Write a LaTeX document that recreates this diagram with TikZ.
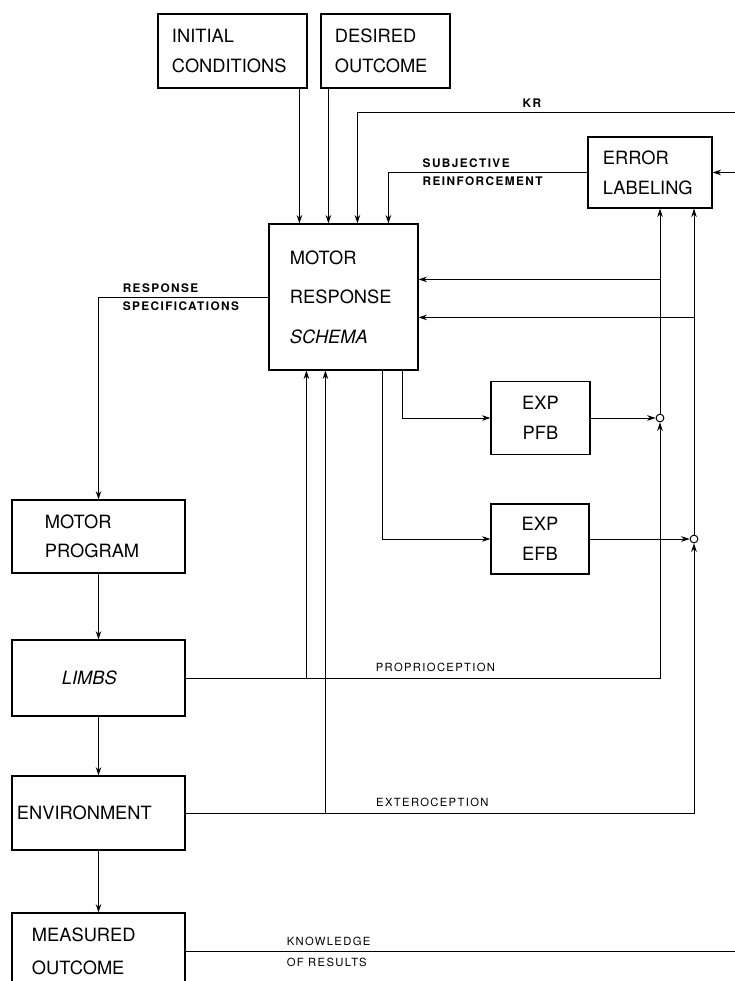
\documentclass[tikz,border=0pt]{standalone}
\usepackage{fontspec}
\setmainfont{TeX Gyre Heros}
\newfontfamily\tagfont[LetterSpace=12]{TeX Gyre Heros}
\usepackage{tikz}
\usetikzlibrary{arrows.meta,positioning,calc}

\tikzset{
  blk/.style={draw, line width=0.8pt, align=left, inner ysep=0pt, font=\fontsize{13}{21}\selectfont},
  arr/.style={-{Stealth[length=6pt,width=4pt]}, line width=0.7pt},
  tag/.style={font=\tagfont\bfseries\fontsize{8.4}{10}\selectfont, inner xsep=0pt, inner ysep=3pt},
  ltag/.style={font=\tagfont\fontsize{8}{9.6}\selectfont, inner xsep=0pt, inner ysep=4pt},
  junc/.style={circle, draw, fill=white, inner sep=0pt, minimum size=5.5pt, line width=0.7pt}
}

\begin{document}
\begin{tikzpicture}[x=0.025cm, y=-0.025cm]
  \useasboundingbox (0,0) rectangle (735,981);

  % Boxes
  \node[blk, text width=3.025cm, inner xsep=0.35cm, minimum height=1.85cm] (ic) at (232.5,51) {INITIAL\\CONDITIONS};
  \node[blk, text width=2.525cm, inner xsep=0.35cm, minimum height=1.85cm] (goal) at (385.5,51) {DESIRED\\OUTCOME};
  \node[blk, text width=2.35cm, inner xsep=0.375cm, minimum height=1.775cm, font=\fontsize{13}{21.5}\selectfont] (err) at (650,172.5) {ERROR\\LABELING};
  \node[blk, text width=2.675cm, inner xsep=0.525cm, minimum height=3.65cm, font=\fontsize{13}{28}\selectfont] (mrs) at (343.5,297) {MOTOR\\RESPONSE\\\textit{SCHEMA}};
  \node[blk, align=center, text width=2.075cm, inner xsep=0.2cm, minimum height=1.825cm] (pfb) at (540.5,418) {EXP\\PFB};
  \node[blk, align=center, text width=2.05cm, inner xsep=0.2cm, minimum height=1.75cm] (efb) at (540,539) {EXP\\EFB};
  \node[blk, text width=2.675cm, inner xsep=0.825cm, minimum height=1.825cm] (mp) at (98.5,536.5) {MOTOR\\PROGRAM};
  \node[blk, text width=1.825cm, inner xsep=1.25cm, minimum height=1.9cm] (limbs) at (98.5,678) {\textit{LIMBS}};
  \node[blk, text width=4.075cm, inner xsep=0.125cm, minimum height=1.85cm] (env) at (98.5,813) {ENVIRONMENT};
  \node[blk, text width=3.325cm, inner xsep=0.5cm, minimum height=1.925cm, font=\fontsize{13}{23.5}\selectfont] (mo) at (98.5,951.5) {MEASURED\\OUTCOME};

  % Ports on the schema and feedback buses
  \path (mrs.north west) ++(31,0) coordinate (in1) ++(29,0) coordinate (in2) ++(29,0) coordinate (in3) ++(31,0) coordinate (in4);
  \path (mrs.south west) ++(38,0) coordinate (fbP) ++(19,0) coordinate (fbE) ++(57,0) coordinate (outE) ++(20,0) coordinate (outP);
  \path (mrs.north east) ++(0,56) coordinate (r1) ++(0,38) coordinate (r2);
  \coordinate (busP) at (660,0);
  \coordinate (busE) at (694,0);
  \coordinate (rim) at (745,0);
  \coordinate (krsrc) at (745,112);

  \node[junc] (sP) at (pfb.east -| busP) {};
  \node[junc] (sE) at (efb.east -| busE) {};

  % Inputs to the schema
  \draw[arr] (ic.south -| in1) -- (in1);
  \draw[arr] (goal.south -| in2) -- (in2);
  \draw[arr] (krsrc) -| node[tag, pos=0.275, above] {KR} (in3);
  \draw[arr] (err.west) -| node[tag, pos=0.415, above right] {SUBJECTIVE} node[tag, pos=0.415, below right] {REINFORCEMENT} (in4);
  \draw[arr] (err.east -| rim) -- (err.east);

  % Response chain
  \draw[arr] (mrs.west) -| node[tag, pos=0.43, above right] {RESPONSE} node[tag, pos=0.43, below right] {SPECIFICATIONS} (mp.north);
  \draw[arr] (mp) -- (limbs);
  \draw[arr] (limbs) -- (env);
  \draw[arr] (env) -- (mo);

  % Expected feedback
  \draw[arr] (outP) |- (pfb.west);
  \draw[arr] (outE) |- (efb.west);
  \draw[arr] (pfb) -- (sP);
  \draw[arr] (efb) -- (sE);
  \draw[arr] (sP) -- (sP |- err.south);
  \draw[arr] (sE) -- (sE |- err.south);
  \draw[arr] (r1 -| sP) -- (r1);
  \draw[arr] (r2 -| sE) -- (r2);

  % Sensory feedback
  \draw[arr] (limbs.east) -| node[ltag, pos=0.2, above right] {PROPRIOCEPTION} (sP);
  \draw[arr] (limbs.east -| fbP) -- (fbP);
  \draw[arr] (env.east) -| node[ltag, pos=0.187, above right] {EXTEROCEPTION} (sE);
  \draw[arr] (env.east -| fbE) -- (fbE);
  \draw[line width=0.7pt] (mo.east) -- node[ltag, pos=0.18, above right] {KNOWLEDGE} node[ltag, pos=0.18, below right] {OF RESULTS} (mo.east -| rim);
\end{tikzpicture}
\end{document}
